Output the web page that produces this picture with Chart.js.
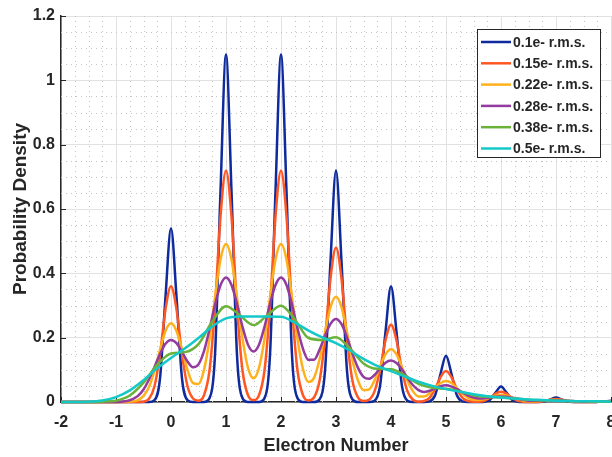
<!DOCTYPE html>
<html>
<head>
<meta charset="utf-8">
<script src="https://cdn.jsdelivr.net/npm/chart.js@4.4.1/dist/chart.umd.min.js"></script>
<style>
  html, body { margin: 0; padding: 0; background: #fff; }
  #wrap { width: 612px; height: 457px; }
</style>
</head>
<body>
<div id="wrap"><canvas id="chart" width="612" height="457"></canvas></div>
<script>
// sample positions (electron number)
const xFine = [
  -2, -1.9, -1.8, -1.7, -1.6, -1.5, -1.4, -1.3, -1.2, -1.1,
  -1, -0.9, -0.8, -0.7, -0.6, -0.5, -0.4, -0.3, -0.2, -0.1,
  0, 0.1, 0.2, 0.3, 0.4, 0.5, 0.6, 0.7, 0.8, 0.9,
  1, 1.1, 1.2, 1.3, 1.4, 1.5, 1.6, 1.7, 1.8, 1.9,
  2, 2.1, 2.2, 2.3, 2.4, 2.5, 2.6, 2.7, 2.8, 2.9,
  3, 3.1, 3.2, 3.3, 3.4, 3.5, 3.6, 3.7, 3.8, 3.9,
  4, 4.1, 4.2, 4.3, 4.4, 4.5, 4.6, 4.7, 4.8, 4.9,
  5, 5.1, 5.2, 5.3, 5.4, 5.5, 5.6, 5.7, 5.8, 5.9,
  6, 6.1, 6.2, 6.3, 6.4, 6.5, 6.6, 6.7, 6.8, 6.9,
  7, 7.1, 7.2, 7.3, 7.4, 7.5, 7.6, 7.7, 7.8, 7.9,
  8
];
const xCoarse = [
  -2, -1.75, -1.5, -1.25, -1, -0.75, -0.5, -0.25,
  0, 0.25, 0.5, 0.75, 1, 1.25, 1.5, 1.75,
  2, 2.25, 2.5, 2.75, 3, 3.25, 3.5, 3.75,
  4, 4.25, 4.5, 4.75, 5, 5.25, 5.5, 5.75,
  6, 6.25, 6.5, 6.75, 7, 7.25, 7.5, 7.75,
  8
];

// probability density
const rms010 = [
  0, 0, 0, 0, 0, 0, 0, 0, 0, 0,
  0, 0, 0, 0, 0, 0, 0, 0.006, 0.073, 0.327,
  0.540, 0.327, 0.073, 0.006, 0, 0, 0, 0.012, 0.146, 0.655,
  1.080, 0.655, 0.146, 0.012, 0, 0, 0, 0.012, 0.146, 0.655,
  1.080, 0.655, 0.146, 0.012, 0, 0, 0, 0.008, 0.097, 0.437,
  0.720, 0.437, 0.097, 0.008, 0, 0, 0, 0.004, 0.049, 0.218,
  0.360, 0.218, 0.049, 0.004, 0, 0, 0, 0.002, 0.020, 0.087,
  0.144, 0.087, 0.020, 0.002, 0, 0, 0, 0.001, 0.007, 0.029,
  0.048, 0.029, 0.007, 0.001, 0, 0, 0, 0, 0.002, 0.008,
  0.014, 0.008, 0.002, 0, 0, 0, 0, 0, 0.001, 0.002,
  0.004
];
const rms015 = [
  0, 0, 0, 0, 0, 0, 0, 0, 0, 0,
  0, 0, 0, 0, 0, 0.001, 0.010, 0.049, 0.148, 0.288,
  0.360, 0.288, 0.148, 0.049, 0.011, 0.004, 0.021, 0.098, 0.296, 0.577,
  0.720, 0.577, 0.296, 0.098, 0.021, 0.006, 0.021, 0.098, 0.296, 0.577,
  0.720, 0.577, 0.296, 0.098, 0.021, 0.005, 0.014, 0.065, 0.197, 0.384,
  0.480, 0.384, 0.197, 0.065, 0.014, 0.003, 0.007, 0.033, 0.099, 0.192,
  0.240, 0.192, 0.099, 0.033, 0.007, 0.001, 0.003, 0.013, 0.040, 0.077,
  0.096, 0.077, 0.040, 0.013, 0.003, 0.001, 0.001, 0.004, 0.013, 0.026,
  0.032, 0.026, 0.013, 0.004, 0.001, 0, 0, 0.001, 0.004, 0.007,
  0.009, 0.007, 0.004, 0.001, 0, 0, 0, 0, 0.001, 0.002,
  0.002
];
const rms022 = [
  0, 0, 0, 0, 0, 0, 0, 0, 0, 0,
  0, 0, 0, 0.002, 0.006, 0.019, 0.047, 0.097, 0.162, 0.221,
  0.245, 0.221, 0.163, 0.100, 0.059, 0.056, 0.100, 0.195, 0.325, 0.443,
  0.491, 0.443, 0.325, 0.197, 0.106, 0.074, 0.106, 0.197, 0.325, 0.443,
  0.491, 0.443, 0.325, 0.196, 0.102, 0.062, 0.075, 0.132, 0.217, 0.295,
  0.327, 0.295, 0.217, 0.130, 0.067, 0.037, 0.039, 0.067, 0.109, 0.148,
  0.164, 0.148, 0.108, 0.065, 0.033, 0.017, 0.017, 0.027, 0.044, 0.059,
  0.065, 0.059, 0.043, 0.026, 0.013, 0.007, 0.006, 0.009, 0.014, 0.020,
  0.022, 0.020, 0.014, 0.009, 0.004, 0.002, 0.002, 0.003, 0.004, 0.006,
  0.006, 0.006, 0.004, 0.002, 0.001, 0.001, 0, 0.001, 0.001, 0.002,
  0.002
];
const rms028 = [
  0, 0, 0, 0, 0, 0, 0, 0, 0, 0,
  0, 0.001, 0.003, 0.009, 0.019, 0.039, 0.070, 0.109, 0.149, 0.181,
  0.193, 0.183, 0.156, 0.126, 0.108, 0.117, 0.158, 0.226, 0.302, 0.363,
  0.387, 0.364, 0.305, 0.234, 0.178, 0.157, 0.178, 0.234, 0.305, 0.364,
  0.387, 0.364, 0.303, 0.229, 0.165, 0.131, 0.131, 0.162, 0.206, 0.243,
  0.258, 0.242, 0.201, 0.150, 0.106, 0.078, 0.072, 0.084, 0.104, 0.122,
  0.129, 0.121, 0.101, 0.075, 0.052, 0.037, 0.031, 0.035, 0.042, 0.049,
  0.052, 0.048, 0.040, 0.030, 0.020, 0.014, 0.011, 0.012, 0.014, 0.016,
  0.017, 0.016, 0.013, 0.010, 0.007, 0.004, 0.004, 0.004, 0.004, 0.005,
  0.005, 0.005, 0.004, 0.003, 0.002, 0.001, 0.001, 0.001, 0.001, 0.001,
  0.001
];
const rms038 = [
  0, 0, 0, 0.001, 0.004, 0.020, 0.060, 0.116,
  0.151, 0.155, 0.180, 0.250, 0.298, 0.270, 0.239, 0.270,
  0.299, 0.257, 0.199, 0.193, 0.201, 0.167, 0.120, 0.103,
  0.102, 0.083, 0.056, 0.044, 0.041, 0.033, 0.021, 0.016,
  0.014, 0.011, 0.007, 0.005, 0.004, 0.003, 0.002, 0.001,
  0.001
];
const rms050 = [
  0, 0, 0.001, 0.005, 0.015, 0.036, 0.068, 0.105,
  0.137, 0.166, 0.199, 0.235, 0.260, 0.266, 0.266, 0.266,
  0.265, 0.247, 0.222, 0.201, 0.183, 0.160, 0.134, 0.112,
  0.096, 0.079, 0.063, 0.050, 0.040, 0.032, 0.024, 0.018,
  0.014, 0.011, 0.008, 0.006, 0.004, 0.003, 0.002, 0.002,
  0.001
];

const seriesLabels = ['0.1e- r.m.s.', '0.15e- r.m.s.', '0.22e- r.m.s.', '0.28e- r.m.s.', '0.38e- r.m.s.', '0.5e- r.m.s.'];
const seriesColors = ['#0e2a9c', '#ff5622', '#ffb11b', '#933b9e', '#6bb23a', '#14c8c8'];
const seriesX = [xFine, xFine, xFine, xFine, xCoarse, xCoarse];
const seriesY = [rms010, rms015, rms022, rms028, rms038, rms050];

const xTicks = [-2, -1, 0, 1, 2, 3, 4, 5, 6, 7, 8];
const yTicks = [0, 0.2, 0.4, 0.6, 0.8, 1, 1.2];

const FONT = "'Liberation Sans', Arial, Helvetica, sans-serif";
const INK = '#262626';

const minorGrid = {
  id: 'minorGrid',
  beforeDatasetsDraw(chart) {
    const { ctx, chartArea: a, scales: { x, y } } = chart;
    ctx.save();
    ctx.strokeStyle = '#c4c4c4';
    ctx.lineWidth = 1;
    ctx.setLineDash([1, 4]);
    ctx.beginPath();
    for (let i = 0; i <= 40; i++) {
      if (i % 4 === 0) continue;
      const px = Math.round(x.getPixelForValue(-2 + i * 0.25)) + 0.5;
      ctx.moveTo(px, a.top);
      ctx.lineTo(px, a.bottom);
    }
    for (let i = 0; i <= 24; i++) {
      if (i % 4 === 0) continue;
      const py = Math.round(y.getPixelForValue(i * 0.05)) + 0.5;
      ctx.moveTo(a.left, py);
      ctx.lineTo(a.right, py);
    }
    ctx.stroke();
    // inward tick marks
    ctx.setLineDash([]);
    ctx.strokeStyle = INK;
    ctx.beginPath();
    xTicks.forEach((v) => {
      const px = Math.round(x.getPixelForValue(v)) + 0.5;
      ctx.moveTo(px, a.bottom);
      ctx.lineTo(px, a.bottom - 5);
    });
    yTicks.forEach((v) => {
      const py = Math.round(y.getPixelForValue(v)) + 0.5;
      ctx.moveTo(a.left, py);
      ctx.lineTo(a.left + 5, py);
    });
    ctx.stroke();
    ctx.restore();
  },
};

const boxLegend = {
  id: 'boxLegend',
  afterDatasetsDraw(chart) {
    const { ctx } = chart;
    const left = 477, top = 29, right = 600, bottom = 157;
    ctx.save();
    ctx.fillStyle = '#fff';
    ctx.fillRect(left, top, right - left, bottom - top);
    ctx.strokeStyle = INK;
    ctx.lineWidth = 1;
    ctx.strokeRect(left + 0.5, top + 0.5, right - left, bottom - top);
    ctx.font = `bold 14px ${FONT}`;
    ctx.textBaseline = 'middle';
    ctx.fillStyle = INK;
    seriesLabels.forEach((label, i) => {
      const cy = 42 + i * 21.3;
      ctx.strokeStyle = seriesColors[i];
      ctx.lineWidth = 2.5;
      ctx.beginPath();
      ctx.moveTo(481, cy);
      ctx.lineTo(511, cy);
      ctx.stroke();
      ctx.fillText(label, 513, cy + 1);
    });
    ctx.restore();
  },
};

const datasets = seriesLabels.map((label, i) => ({
  label,
  data: seriesX[i].map((xv, j) => ({ x: xv, y: seriesY[i][j] })),
  borderColor: seriesColors[i],
  backgroundColor: seriesColors[i],
  borderWidth: 2.5,
  pointRadius: 0,
  cubicInterpolationMode: 'monotone',
  fill: false,
  order: seriesLabels.length - 1 - i,
  clip: 3,
}));

new Chart(document.getElementById('chart'), {
  type: 'line',
  data: { datasets },
  options: {
    responsive: false,
    animation: false,
    devicePixelRatio: 1,
    layout: { padding: { top: 16, right: 1, left: 0, bottom: 0 } },
    plugins: { legend: { display: false }, tooltip: { enabled: false } },
    scales: {
      x: {
        type: 'linear',
        min: -2,
        max: 8,
        afterBuildTicks: (s) => { s.ticks = xTicks.map((v) => ({ value: v })); },
        afterFit: (s) => { s.height = 55; s.paddingLeft = 0; s.paddingRight = 0; },
        ticks: {
          color: INK,
          padding: 11,
          maxRotation: 0,
          autoSkip: false,
          font: { family: FONT, size: 16, weight: 'bold' },
          callback: (v) => String(v),
        },
        grid: { color: '#e2e2e2', lineWidth: 1, drawTicks: false },
        border: { color: INK, width: 1.5 },
        title: {
          display: true,
          text: 'Electron Number',
          color: INK,
          font: { family: FONT, size: 18, weight: 'bold', lineHeight: 1.2 },
          padding: { top: 0, bottom: 0 },
        },
      },
      y: {
        type: 'linear',
        min: 0,
        max: 1.2,
        afterBuildTicks: (s) => { s.ticks = yTicks.map((v) => ({ value: v })); },
        afterFit: (s) => { s.width = 61; s.paddingTop = 0; s.paddingBottom = 0; },
        ticks: {
          color: INK,
          padding: 6,
          autoSkip: false,
          font: { family: FONT, size: 16, weight: 'bold' },
          callback: (v) => String(v),
        },
        grid: { color: '#e2e2e2', lineWidth: 1, drawTicks: false },
        border: { color: INK, width: 1.5 },
        title: {
          display: true,
          text: 'Probability Density',
          color: INK,
          font: { family: FONT, size: 19, weight: 'bold', lineHeight: 1.2 },
          padding: { top: 9, bottom: 0 },
        },
      },
    },
  },
  plugins: [minorGrid, boxLegend],
});
</script>
</body>
</html>
